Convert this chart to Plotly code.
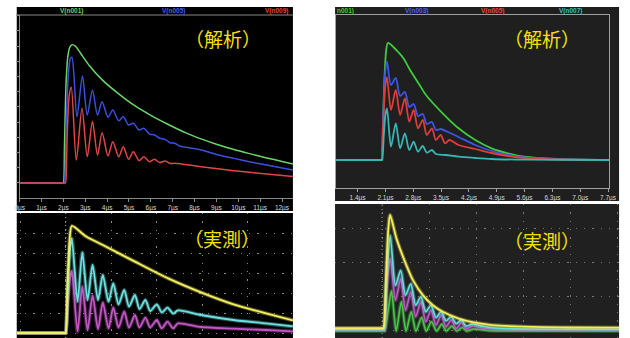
import plotly.graph_objects as go

W, H = 630, 338

# ---------------- data ----------------
# Simulation 1 (time in µs, voltage in divisions)
sim1_green_t = [0, 1.98, 2.0, 2.05, 2.12, 2.2, 2.3, 2.4, 2.55, 2.8, 3.2, 3.8, 4.5, 5.3, 6.0, 6.8, 7.6, 8.3, 9.0, 9.8, 10.6, 11.3, 12.0, 12.5]
sim1_green_v = [0, 0, 0, 2.5, 6.5, 8.3, 8.95, 9.1, 9.0, 8.5, 7.7, 6.75, 5.9, 5.05, 4.45, 3.85, 3.3, 2.9, 2.55, 2.2, 1.9, 1.65, 1.42, 1.25]

sim1_blue_t = [0, 2.03, 2.05, 2.12, 2.22, 2.32, 2.39, 2.62, 2.87, 3.09, 3.33, 3.56, 3.77, 4.04, 4.26, 4.53, 4.74, 4.98, 5.20, 5.46, 5.68,
               5.94, 6.17, 6.41, 6.65, 6.88, 7.10, 7.32, 7.8, 8.3, 9.0, 9.79, 10.5, 11.29, 12.5]
sim1_blue_v = [0, 0, 0, 3.5, 7.0, 8.2, 8.27, 4.36, 7.04, 4.47, 6.12, 4.47, 5.35, 4.32, 4.80, 4.10, 4.36, 3.82, 3.93, 3.49, 3.60,
               3.22, 3.16, 2.94, 2.87, 2.65, 2.61, 2.43, 2.3, 2.17, 1.88, 1.62, 1.4, 1.18, 0.85]

sim1_red_t = [0, 2.08, 2.1, 2.17, 2.27, 2.36, 2.59, 2.85, 3.09, 3.33, 3.56, 3.77, 4.04, 4.26, 4.53, 4.74, 4.98, 5.20, 5.46, 5.68,
              5.94, 6.17, 6.41, 6.65, 6.9, 7.1, 8.3, 9.79, 11.29, 12.5]
sim1_red_v = [0, 0, 0, 3.0, 5.8, 6.29, 1.51, 4.91, 1.73, 4.04, 1.84, 3.31, 1.78, 2.72, 1.73, 2.39, 1.56, 2.06, 1.47, 1.73,
              1.40, 1.56, 1.34, 1.45, 1.28, 1.3, 1.07, 0.81, 0.59, 0.42]

sim1_ticks = list(range(0, 13))
sim1_ticktext = [f"{k}µs" for k in sim1_ticks]
sim1_names = ["V(n001)", "V(n005)", "V(n009)"]

# Simulation 2
sim2_green_t = [0.86, 1.99, 2.0, 2.04, 2.08, 2.12, 2.16, 2.22, 2.30, 2.42, 2.55, 2.72, 2.96, 3.12, 3.54, 3.94, 4.36, 4.77, 5.18, 5.59, 6.41, 7.73]
sim2_green_v = [0, 0, 0, 4.0, 8.5, 11.0, 11.7, 11.6, 11.3, 10.8, 10.2, 9.0, 7.5, 6.5, 4.67, 3.17, 2.0, 1.17, 0.67, 0.33, 0.1, 0]

sim2_blue_t = [0.86, 1.99, 2.0, 2.05, 2.1, 2.14, 2.24, 2.36, 2.47, 2.59, 2.70, 2.81, 2.92, 3.04, 3.14, 3.27, 3.37, 3.49, 3.7, 3.94, 4.36, 4.77, 5.18, 5.59, 6.41, 7.73]
sim2_blue_v = [0, 0, 0, 5.0, 9.0, 9.83, 7.5, 8.2, 6.4, 6.8, 5.3, 5.6, 4.4, 4.6, 3.6, 3.8, 3.0, 3.1, 2.75, 2.3, 1.5, 0.9, 0.5, 0.25, 0.08, 0]

sim2_red_t = [0.86, 1.99, 2.0, 2.05, 2.1, 2.14, 2.24, 2.36, 2.47, 2.59, 2.70, 2.81, 2.92, 3.04, 3.14, 3.27, 3.37, 3.49, 3.60, 3.71, 3.94, 4.36, 4.77, 5.18, 5.59, 6.41, 7.73]
sim2_red_v = [0, 0, 0, 4.0, 7.5, 8.27, 5.0, 7.0, 4.5, 6.17, 3.83, 5.0, 3.17, 4.0, 2.5, 3.17, 2.0, 2.5, 1.67, 2.0, 1.5, 1.1, 0.7, 0.4, 0.2, 0.05, 0]

sim2_cyan_t = [0.86, 2.01, 2.02, 2.06, 2.1, 2.14, 2.24, 2.36, 2.47, 2.59, 2.70, 2.81, 2.92, 3.04, 3.14, 3.27, 3.37, 3.62, 3.94, 4.36, 4.77, 5.59, 7.73]
sim2_cyan_v = [0, 0, 0, 2.5, 4.5, 5.17, 1.33, 3.67, 1.17, 2.67, 1.0, 1.83, 0.83, 1.4, 0.73, 1.0, 0.6, 0.5, 0.33, 0.2, 0.1, 0.03, 0]

sim2_ticks = [1.4, 2.1, 2.8, 3.5, 4.2, 4.9, 5.6, 6.3, 7.0, 7.7]
sim2_ticktext = [f"{v:.1f}µs" for v in sim2_ticks]
sim2_names = ["n001)", "V(n003)", "V(n005)", "V(n007)"]

# Measurement 1 (time in µs, voltage in divisions)
meas1_yel_t = [-0.15, 1.98, 2.0, 2.08, 2.18, 2.27, 2.9, 3.63, 5.04, 6.5, 7.94, 9.37, 10.8, 11.98]
meas1_yel_v = [0, 0, 0, 2.5, 4.8, 5.35, 4.82, 4.4, 3.57, 2.73, 2.03, 1.43, 0.98, 0.63]

meas1_cyan_t = [-0.15, 1.98, 2.0, 2.1, 2.2, 2.27, 2.52, 2.73, 2.96, 3.18, 3.42, 3.63, 3.88, 4.09, 4.32, 4.57, 4.78, 5.04, 5.24, 5.50,
                5.71, 6.0, 6.22, 6.47, 6.72, 6.93, 7.94, 9.37, 10.8, 11.98]
meas1_cyan_v = [0, 0, 0, 2.5, 4.3, 4.73, 1.57, 4.03, 1.65, 3.4, 1.65, 2.9, 1.57, 2.48, 1.43, 2.15, 1.32, 1.9, 1.2, 1.65,
                1.1, 1.43, 1.03, 1.27, 0.97, 1.13, 0.9, 0.65, 0.48, 0.33]

meas1_mag_t = [-0.15, 1.98, 2.0, 2.1, 2.2, 2.27, 2.52, 2.73, 2.96, 3.18, 3.42, 3.63, 3.88, 4.09, 4.32, 4.57, 4.78, 5.04, 5.24, 5.50,
               5.71, 6.0, 6.22, 6.47, 6.72, 6.93, 7.94, 9.37, 10.8, 11.98]
meas1_mag_v = [0, 0, 0, 1.6, 2.8, 3.1, 0.07, 2.32, 0.15, 1.87, 0.2, 1.53, 0.23, 1.27, 0.27, 1.07, 0.27, 0.9, 0.27, 0.77,
               0.27, 0.65, 0.23, 0.57, 0.23, 0.48, 0.3, 0.22, 0.15, 0.08]

# Measurement 2
meas2_yel_t = [1.0, 2.01, 2.03, 2.08, 2.13, 2.17, 2.31, 2.52, 2.66, 2.87, 3.08, 3.29, 3.63, 3.98, 4.33, 5.02, 6.0, 7.04]
meas2_yel_v = [0.1, 0.1, 0.1, 2.5, 5.0, 5.8, 4.58, 3.25, 2.5, 1.75, 1.25, 0.92, 0.58, 0.37, 0.25, 0.17, 0.13, 0.12]

meas2_cyan_t = [1.0, 2.02, 2.04, 2.1, 2.174, 2.285, 2.396, 2.5, 2.611, 2.715, 2.826, 2.93, 3.04, 3.146, 3.257, 3.36, 3.47, 3.576,
                3.69, 3.79, 3.91, 4.12, 4.33, 5.0, 7.04]
meas2_cyan_v = [0.02, 0.02, 0.02, 2.5, 4.75, 2.25, 3.0, 1.75, 2.33, 1.25, 1.67, 0.92, 1.25, 0.63, 0.92, 0.47, 0.67, 0.33,
                0.5, 0.2, 0.3, 0.2, 0.12, 0.05, 0.03]

meas2_mag_t = [1.0, 2.03, 2.05, 2.1, 2.174, 2.285, 2.396, 2.5, 2.611, 2.715, 2.826, 2.93, 3.04, 3.146, 3.257, 3.36, 3.47, 3.576,
               3.69, 3.79, 3.91, 4.12, 4.4, 5.0, 7.04]
meas2_mag_v = [0.0, 0.0, 0.0, 2.0, 3.58, 1.5, 2.58, 1.0, 1.92, 0.67, 1.42, 0.42, 1.0, 0.25, 0.75, 0.17, 0.5, 0.08,
               0.37, 0.05, 0.2, 0.1, 0.05, 0.02, 0.0]

meas2_grn_t = [1.0, 2.04, 2.06, 2.13, 2.2, 2.3, 2.41, 2.51, 2.62, 2.72, 2.84, 2.94, 3.05, 3.16, 3.27, 3.37, 3.48, 3.59, 3.70,
               3.80, 3.95, 4.3, 5.0, 7.04]
meas2_grn_v = [-0.05, -0.05, -0.05, 1.0, 1.97, -0.05, 1.42, -0.05, 0.92, -0.05, 0.63, -0.05, 0.42, -0.05, 0.3, -0.05, 0.2, -0.05, 0.13,
               -0.05, 0.05, -0.03, -0.04, -0.05]

label_sim = "（解析）"
label_meas = "（実測）"

# ---------------- helpers ----------------
def fx(p):
    return p / W


def fy(p):
    return 1 - p / H


fig = go.Figure()


def sim_line(x, y, color, ax, width=1.5):
    fig.add_trace(go.Scatter(x=x, y=y, mode="lines", xaxis=ax[0], yaxis=ax[1],
                             line=dict(color=color, width=width, shape="spline", smoothing=0.8),
                             hoverinfo="skip", showlegend=False))


def scope_line(x, y, color, ax, width=1.8):
    # soft halo under a solid core, like a phosphor trace
    fig.add_trace(go.Scatter(x=x, y=y, mode="lines", xaxis=ax[0], yaxis=ax[1], opacity=0.35,
                             line=dict(color=color, width=width + 2.2, shape="spline", smoothing=0.7),
                             hoverinfo="skip", showlegend=False))
    fig.add_trace(go.Scatter(x=x, y=y, mode="lines", xaxis=ax[0], yaxis=ax[1],
                             line=dict(color=color, width=width, shape="spline", smoothing=0.7),
                             hoverinfo="skip", showlegend=False))


# Simulation 1
sim_line(sim1_green_t, sim1_green_v, "#6cd46c", ("x", "y"))
sim_line(sim1_blue_t, sim1_blue_v, "#3b4fdc", ("x", "y"))
sim_line(sim1_red_t, sim1_red_v, "#e04646", ("x", "y"))

# Simulation 2
sim_line(sim2_green_t, sim2_green_v, "#3ccc3c", ("x2", "y2"), 1.8)
sim_line(sim2_blue_t, sim2_blue_v, "#3d55e6", ("x2", "y2"), 1.8)
sim_line(sim2_red_t, sim2_red_v, "#e03c3c", ("x2", "y2"), 1.8)
sim_line(sim2_cyan_t, sim2_cyan_v, "#36b6b6", ("x2", "y2"), 1.8)

# Measurement 1
scope_line(meas1_mag_t, meas1_mag_v, "#c258c4", ("x3", "y3"))
scope_line(meas1_cyan_t, meas1_cyan_v, "#6fe0e0", ("x3", "y3"))
scope_line(meas1_yel_t, meas1_yel_v, "#f4f060", ("x3", "y3"))

# Measurement 2
scope_line(meas2_grn_t, meas2_grn_v, "#48c848", ("x4", "y4"), 1.6)
scope_line(meas2_mag_t, meas2_mag_v, "#c058c8", ("x4", "y4"), 1.6)
scope_line(meas2_cyan_t, meas2_cyan_v, "#66dcdc", ("x4", "y4"), 1.6)
scope_line(meas2_yel_t, meas2_yel_v, "#f2ee5a", ("x4", "y4"), 1.8)

# ---------------- panel backgrounds ----------------
shapes = [
    dict(type="rect", xref="paper", yref="paper", x0=fx(12), x1=fx(294), y0=fy(211), y1=fy(7),
         fillcolor="#000000", line_width=0, layer="below"),
    dict(type="rect", xref="paper", yref="paper", x0=fx(337), x1=fx(627), y0=fy(201), y1=fy(7),
         fillcolor="#1f1f1f", line_width=0, layer="below"),
    dict(type="rect", xref="paper", yref="paper", x0=fx(12), x1=fx(294), y0=fy(338), y1=fy(213),
         fillcolor="#000000", line_width=0, layer="below"),
    dict(type="rect", xref="paper", yref="paper", x0=fx(337), x1=fx(627), y0=fy(338), y1=fy(204),
         fillcolor="#202020", line_width=0, layer="below"),
    # header rule of the first simulation plot
    dict(type="line", xref="paper", yref="paper", x0=fx(12), x1=fx(294), y0=fy(15), y1=fy(15),
         line=dict(color="#8a8a8a", width=1.2), layer="below"),
    # scope centre graticule lines (finely dotted)
    dict(type="line", xref="x3", yref="paper", x0=2, x1=2, y0=0, y1=fy(213),
         line=dict(color="#9a9a9a", width=1.2, dash="1px,3px"), layer="below"),
    dict(type="line", xref="x4", yref="paper", x0=2, x1=2, y0=0, y1=fy(204),
         line=dict(color="#8a8a8a", width=1.2, dash="1px,3px"), layer="below"),
]

tickfont = dict(family="Liberation Sans, Arial", size=6.5, color="#d8d8d8")

layout_axes = dict(
    xaxis=dict(domain=[fx(15), fx(294)], range=[0, 12.5], anchor="y",
               showline=True, linecolor="#8a8a8a", linewidth=1.2,
               ticks="outside", ticklen=3, tickcolor="#8a8a8a",
               tickvals=sim1_ticks, ticktext=sim1_ticktext, tickfont=tickfont,
               showgrid=False, zeroline=False),
    yaxis=dict(domain=[fy(198), fy(15)], range=[-0.987, 11.05], anchor="x",
               showline=True, linecolor="#8a8a8a", linewidth=1.2,
               ticks="outside", ticklen=3, tickcolor="#8a8a8a",
               tickvals=list(range(0, 12)), showticklabels=False,
               showgrid=False, zeroline=False),
    xaxis2=dict(domain=[fx(338), fx(617)], range=[0.858, 7.73], anchor="y2",
                showline=True, mirror=True, linecolor="#a0a0a0", linewidth=1.2,
                ticks="outside", ticklen=3, tickcolor="#a0a0a0",
                tickvals=sim2_ticks, ticktext=sim2_ticktext, tickfont=tickfont,
                showgrid=False, zeroline=False),
    yaxis2=dict(domain=[fy(188), fy(15)], range=[-2.8, 14.5], anchor="x2",
                showline=True, mirror=True, linecolor="#a0a0a0", linewidth=1.2,
                showticklabels=False, ticks="", showgrid=False, zeroline=False),
    xaxis3=dict(domain=[fx(12), fx(294)], range=[-0.15, 11.98], anchor="y3",
                tick0=0, dtick=2, showticklabels=False, ticks="",
                showgrid=True, gridcolor="#8a8a8a", gridwidth=1.3, griddash="1.3px,7px",
                zeroline=False, showline=False),
    yaxis3=dict(domain=[0, fy(213)], range=[-0.25, 6.0], anchor="x3",
                tick0=0, dtick=1, showticklabels=False, ticks="",
                showgrid=True, gridcolor="#8a8a8a", gridwidth=1.3, griddash="1.3px,7px",
                zeroline=False, showline=False),
    xaxis4=dict(domain=[fx(337), fx(627)], range=[1.0, 7.04], anchor="y4",
                tick0=0, dtick=1, showticklabels=False, ticks="",
                showgrid=True, gridcolor="#7a7a7a", gridwidth=1.3, griddash="1.3px,7px",
                zeroline=False, showline=False),
    yaxis4=dict(domain=[0, fy(204)], range=[-0.4, 6.35], anchor="x4",
                tick0=0, dtick=1.7, showticklabels=False, ticks="",
                showgrid=True, gridcolor="#7a7a7a", gridwidth=1.3, griddash="1.3px,7px",
                zeroline=False, showline=False),
)

# ---------------- labels ----------------
hdr = dict(family="Liberation Sans, Arial", size=6.5)
annotations = []
for name, color, px in zip(sim1_names, ["#6cd46c", "#4a5ee8", "#e04646"], [68, 172, 277]):
    annotations.append(dict(text=f"<b>{name}</b>", x=fx(px), y=fy(11), xref="paper", yref="paper",
                            showarrow=False, font=dict(color=color, **hdr), xanchor="center", yanchor="middle"))
for name, color, px, xa in zip(sim2_names, ["#3ccc3c", "#4a62ee", "#e84848", "#36c0c0"],
                               [337, 420, 498, 577], ["left", "center", "center", "center"]):
    annotations.append(dict(text=f"<b>{name}</b>", x=fx(px), y=fy(11), xref="paper", yref="paper",
                            showarrow=False, font=dict(color=color, **hdr), xanchor=xa, yanchor="middle"))

big = dict(family="Noto Sans CJK JP", size=19, color="#f6e100")
for txt, px, py in [(label_sim, 223, 38), (label_sim, 548, 38), (label_meas, 222, 238), (label_meas, 548, 240)]:
    annotations.append(dict(text=txt, x=fx(px), y=fy(py), xref="paper", yref="paper", showarrow=False,
                            font=big, xanchor="center", yanchor="middle"))

fig.update_layout(
    width=W, height=H, margin=dict(l=0, r=0, t=0, b=0),
    paper_bgcolor="#ffffff", plot_bgcolor="rgba(0,0,0,0)",
    shapes=shapes, annotations=annotations, showlegend=False,
    **layout_axes,
)

fig.write_html("out.html", config={"displayModeBar": False})
